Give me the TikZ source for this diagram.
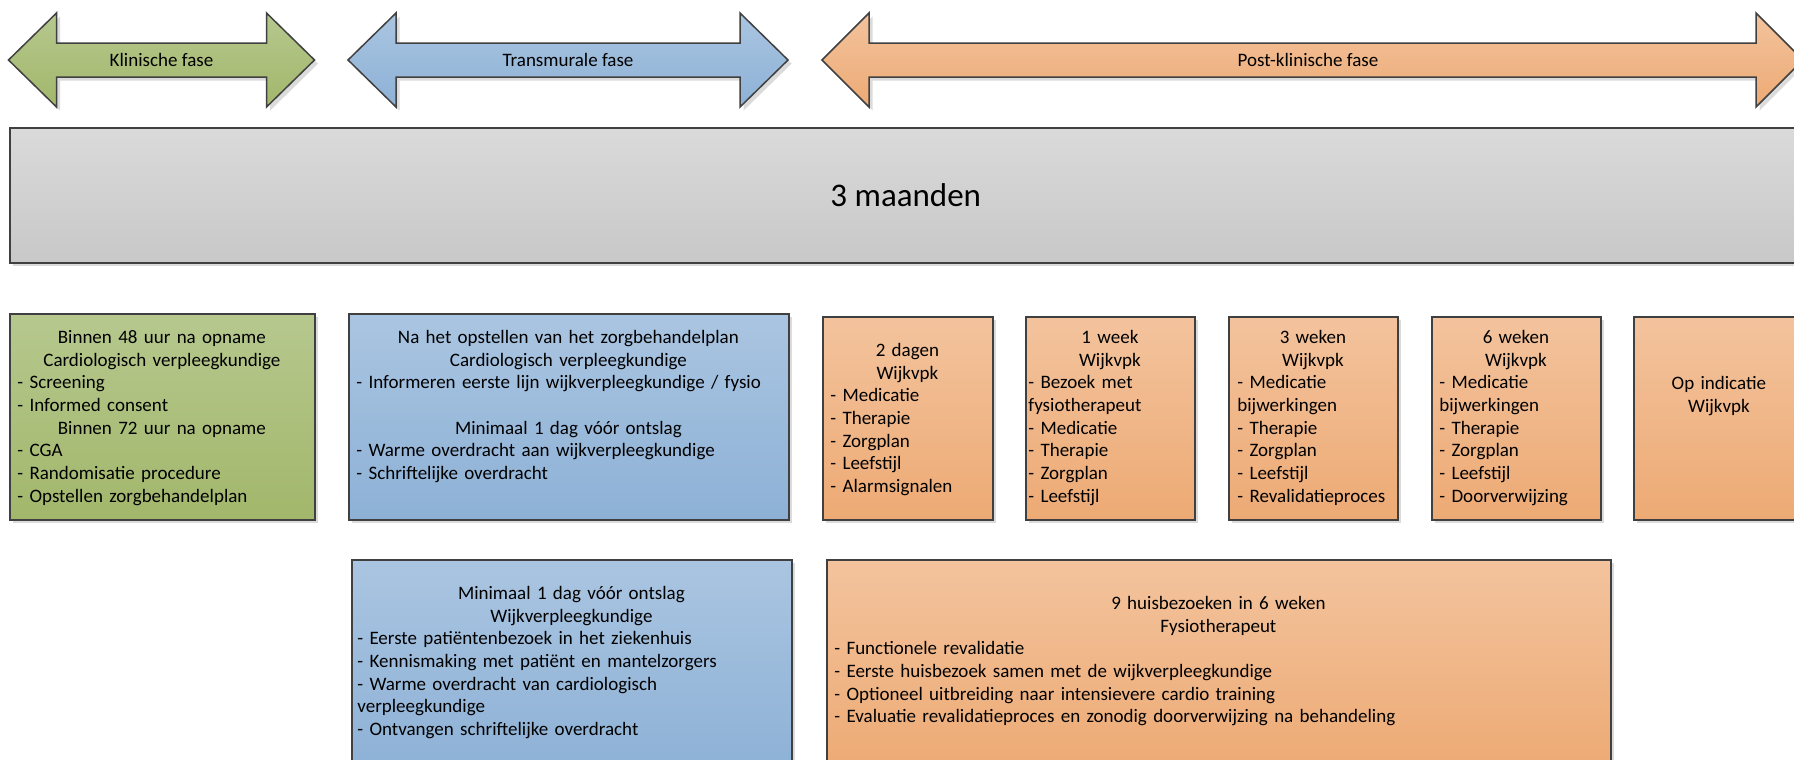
\documentclass[tikz,border=0pt]{standalone}
\usepackage{fontspec}
\setmainfont{Carlito}
\usetikzlibrary{shadows}
\definecolor{bordc}{HTML}{404040}
\definecolor{gtop}{HTML}{B6C88E}
\definecolor{gbot}{HTML}{A2B76B}
\definecolor{btop}{HTML}{AAC5E1}
\definecolor{bbot}{HTML}{8DB1D6}
\definecolor{otop}{HTML}{F3C39D}
\definecolor{obot}{HTML}{EDAA74}
\definecolor{ytop}{HTML}{DADADA}
\definecolor{ybot}{HTML}{C8C8C8}
\newcommand{\ctrl}[2]{\makebox[#1][c]{#2}}
\begin{document}
\begin{tikzpicture}[x=0.5pt,y=-0.5pt,
  shadowed/.style={drop shadow={shadow xshift=1.8pt,shadow yshift=-1.8pt,fill=black!14,opacity=1}},
  box/.style={draw=bordc,line width=0.75pt,shadowed,rectangle,inner sep=0pt,anchor=north west},
  gfill/.style={top color=gtop,bottom color=gbot},
  bfill/.style={top color=btop,bottom color=bbot},
  ofill/.style={top color=otop,bottom color=obot},
  yfill/.style={top color=ytop,bottom color=ybot},
  txt/.style={anchor=north west,inner sep=0pt,align=left,font=\fontsize{9.5}{11.35}\selectfont},
  lab/.style={inner sep=0pt,font=\fontsize{9.5}{11.35}\selectfont}]
\clip (0,0) rectangle (1794,760);
\fill[white] (0,0) rectangle (1794,760);

% phase arrows
\path[draw=bordc,line width=0.75pt,shadowed,gfill]
  (8.5,60) -- (56.5,13) -- (56.5,43) -- (266.5,43) -- (266.5,13) -- (314.5,60)
  -- (266.5,107) -- (266.5,77) -- (56.5,77) -- (56.5,107) -- cycle;
\node[lab] (klin) at (161.5,60) {Klinische fase};

\path[draw=bordc,line width=0.75pt,shadowed,bfill]
  (348,60) -- (396,13) -- (396,43) -- (740,43) -- (740,13) -- (788,60)
  -- (740,107) -- (740,77) -- (396,77) -- (396,107) -- cycle;
\node[lab] (trans) at (568,60) {Transmurale fase};

\path[draw=bordc,line width=0.75pt,shadowed,ofill]
  (822,60) -- (869,13) -- (869,43) -- (1756,43) -- (1756,13) -- (1803,60)
  -- (1756,107) -- (1756,77) -- (869,77) -- (869,107) -- cycle;
\node[lab] (post) at (1308,60) {Post-klinische fase};

% period bar
\node[box,yfill,minimum width=896pt,minimum height=67.5pt,font=\fontsize{16.5}{19.8}\selectfont] (bar) at (9,127) {3 maanden};

% first row
\node[box,gfill,minimum width=152.5pt,minimum height=103pt] (g) at (9,313) {};
\node[txt,text width=144.5pt] (gt) at (17,327.1) {%
\ctrl{144.5pt}{\strut Binnen 48 uur na opname}\\
\ctrl{144.5pt}{Cardiologisch verpleegkundige}\\
- Screening\\
- Informed consent\\
\ctrl{144.5pt}{Binnen 72 uur na opname}\\
- CGA\\
- Randomisatie procedure\\
- Opstellen zorgbehandelplan};

\node[box,bfill,minimum width=220pt,minimum height=103pt] (b1) at (348,313) {};
\node[txt,text width=212pt] (b1t) at (356,327.1) {%
\ctrl{212pt}{\strut Na het opstellen van het zorgbehandelplan}\\
\ctrl{212pt}{Cardiologisch verpleegkundige}\\
- Informeren eerste lijn wijkverpleegkundige / fysio\\
\mbox{}\\
\ctrl{212pt}{Minimaal 1 dag vóór ontslag}\\
- Warme overdracht aan wijkverpleegkundige\\
- Schriftelijke overdracht};

\node[box,ofill,minimum width=85pt,minimum height=101.5pt] (o1) at (822,316) {};
\node[txt,text width=77pt] (o1t) at (830,340.1) {%
\ctrl{77pt}{\strut 2 dagen}\\
\ctrl{77pt}{Wijkvpk}\\
- Medicatie\\
- Therapie\\
- Zorgplan\\
- Leefstijl\\
- Alarmsignalen};

\node[box,ofill,minimum width=84.5pt,minimum height=101.5pt] (o2) at (1025,316) {};
\node[txt,text width=81.5pt] (o2t) at (1028,327.1) {%
\ctrl{81.5pt}{\strut 1 week}\\
\ctrl{81.5pt}{Wijkvpk}\\
- Bezoek met\\
fysiotherapeut\\
- Medicatie\\
- Therapie\\
- Zorgplan\\
- Leefstijl};

\node[box,ofill,minimum width=84.5pt,minimum height=101.5pt] (o3) at (1228,316) {};
\node[txt,text width=75.5pt] (o3t) at (1237,327.1) {%
\ctrl{75.5pt}{\strut 3 weken}\\
\ctrl{75.5pt}{Wijkvpk}\\
- Medicatie\\
bijwerkingen\\
- Therapie\\
- Zorgplan\\
- Leefstijl\\
- Revalidatieproces};

\node[box,ofill,minimum width=84.5pt,minimum height=101.5pt] (o4) at (1431,316) {};
\node[txt,text width=76.5pt] (o4t) at (1439,327.1) {%
\ctrl{76.5pt}{\strut 6 weken}\\
\ctrl{76.5pt}{Wijkvpk}\\
- Medicatie\\
bijwerkingen\\
- Therapie\\
- Zorgplan\\
- Leefstijl\\
- Doorverwijzing};

\node[box,ofill,minimum width=85.5pt,minimum height=101.5pt] (o5) at (1633,316) {};
\node[txt,text width=77.5pt] (o5t) at (1641,373.1) {%
\ctrl{77.5pt}{\strut Op indicatie}\\
\ctrl{77.5pt}{Wijkvpk}};

% second row
\node[box,bfill,minimum width=220pt,minimum height=105.5pt] (b2) at (351,559) {};
\node[txt,text width=214pt] (b2t) at (357,583.1) {%
\ctrl{214pt}{\strut Minimaal 1 dag vóór ontslag}\\
\ctrl{214pt}{Wijkverpleegkundige}\\
- Eerste patiëntenbezoek in het ziekenhuis\\
- Kennismaking met patiënt en mantelzorgers\\
- Warme overdracht van cardiologisch\\
verpleegkundige\\
- Ontvangen schriftelijke overdracht};

\node[box,ofill,minimum width=392pt,minimum height=105.5pt] (ob) at (826,559) {};
\node[txt,text width=384pt] (obt) at (834,593.1) {%
\ctrl{384pt}{\strut 9 huisbezoeken in 6 weken}\\
\ctrl{384pt}{Fysiotherapeut}\\
- Functionele revalidatie\\
- Eerste huisbezoek samen met de wijkverpleegkundige\\
- Optioneel uitbreiding naar intensievere cardio training\\
- Evaluatie revalidatieproces en zonodig doorverwijzing na behandeling};
\end{tikzpicture}
\end{document}
